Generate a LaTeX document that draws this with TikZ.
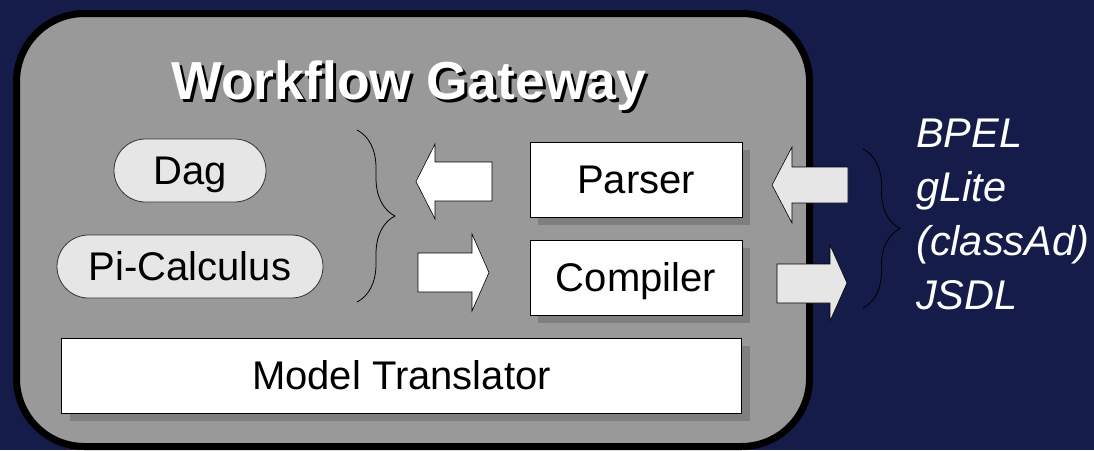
\documentclass[tikz,border=0pt]{standalone}
\usepackage{fontspec}
\setmainfont{Liberation Sans}
\usetikzlibrary{shadows,decorations.pathreplacing,shapes.misc}
\definecolor{navy}{HTML}{151C4A}
\definecolor{panel}{HTML}{999999}
\definecolor{shade}{HTML}{7F7F7F}
\definecolor{light}{HTML}{E6E6E6}
\tikzset{
  box/.style={draw=black, line width=0.8pt, fill=white, rectangle, inner sep=0pt,
    text height=28.6pt, text depth=0pt, font=\fontsize{40}{48}\selectfont,
    general shadow={fill=shade, shadow xshift=8pt, shadow yshift=-8pt}},
  pill/.style={draw=black!80, line width=0.8pt, fill=light, rounded rectangle, inner sep=0pt,
    text height=28.6pt, text depth=0pt, font=\fontsize{40}{48}\selectfont, minimum height=63pt},
  blockarrow/.style={draw=black, line width=0.6pt, line join=miter},
  bracestyle/.style={decorate, decoration={brace, amplitude=38pt}, draw=black, line width=0.8pt},
  sidetext/.style={text=white, font=\fontsize{41.5}{50}\selectfont\itshape, anchor=base west, inner sep=0pt},
  titlefont/.style={font=\fontsize{53.5}{62}\selectfont\bfseries, anchor=base, inner sep=0pt},
}
\begin{document}
\begin{tikzpicture}[x=1pt,y=-1pt]
\fill[navy] (0,0) rectangle (1094,450);
\useasboundingbox (0,0) rectangle (1094,450);
% gateway container
\node[draw=black, line width=7pt, fill=panel, rounded corners=68pt, rectangle, inner sep=0pt,
  minimum width=793pt, minimum height=433pt] (gw) at (413,230) {};
% title with shadow (one node)
\node[titlefont, text=white] (title) at (409,99)
  {\makebox[0pt][l]{\hspace{3pt}\raisebox{-3pt}{\color{black}Workflow Gateway}}Workflow Gateway};
% models
\node[pill, minimum width=152pt] (dag) at (190,170.5) {Dag};
\node[pill, minimum width=266pt] (pi) at (190,266.5) {Pi-Calculus};
% boxes
\node[box, minimum width=212pt, minimum height=75pt] (parser) at (636,179.5) {Parser};
\node[box, minimum width=212pt, minimum height=75pt] (compiler) at (636,277.5) {Compiler};
\node[box, minimum width=680pt, minimum height=75pt] (mt) at (401.5,375.5) {Model Translator};
% inner block arrows
\draw[blockarrow, fill=white] (492,162) -- (435,162) -- (435,144) -- (416,181.5) -- (435,219) -- (435,201) -- (492,201) -- cycle;
\draw[blockarrow, fill=white] (418,253) -- (472,253) -- (472,234) -- (489,272.5) -- (472,311) -- (472,292) -- (418,292) -- cycle;
% outer block arrows
\draw[blockarrow, fill=light] (848,167) -- (792,167) -- (792,147) -- (772,185) -- (792,223) -- (792,203) -- (848,203) -- cycle;
\draw[blockarrow, fill=light] (777,264) -- (830,264) -- (830,245) -- (847,283) -- (830,321) -- (830,303) -- (777,303) -- cycle;
% braces
\coordinate (lb1) at (357,130);
\coordinate (lb2) at (357,302);
\draw[bracestyle] (lb1) -- (lb2);
\coordinate (rb1) at (863,149);
\coordinate (rb2) at (863,308);
\draw[bracestyle, decoration={brace, amplitude=37pt}] (rb1) -- (rb2);
% side formats
\node[sidetext] (bpel) at (916,147) {BPEL};
\node[sidetext] (glite) at (916,201) {gLite};
\node[sidetext] (classad) at (916,255) {(classAd)};
\node[sidetext] (jsdl) at (916,309) {JSDL};
\end{tikzpicture}
\end{document}
